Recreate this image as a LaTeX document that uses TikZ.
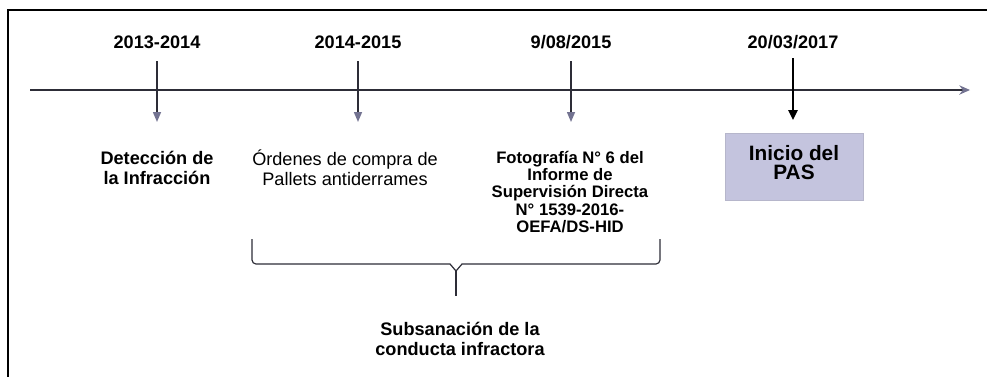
\documentclass[tikz,border=0pt]{standalone}
\usepackage{fontspec}
\setmainfont{Liberation Sans}
\usepackage{xcolor}
\usetikzlibrary{arrows.meta,positioning}
\definecolor{lineGray}{RGB}{45,45,55}
\definecolor{tipBlue}{RGB}{115,115,145}
\definecolor{boxBlue}{RGB}{196,196,222}

\begin{document}
\begin{tikzpicture}[
	x=0.75pt, y=-0.75pt,
	datelabel/.style={
		font=\fontsize{13.6}{15}\selectfont\bfseries,
		inner sep=0pt},
	eventlabel/.style={
		align=center,
		inner sep=0pt,
		font=\fontsize{13.6}{15}\selectfont\bfseries},
	myarrow/.style={draw=lineGray, line width=1.1pt,
		-{Triangle[length=7.5pt,width=6pt,fill=tipBlue,color=tipBlue]}},
	mainarrow/.style={draw=black, line width=1.4pt,
		-{Triangle[length=7.5pt,width=7pt,fill=black]}},
	pasbox/.style={
		fill=boxBlue,
		draw=boxBlue!80!gray,
		minimum width=103.5pt,
		minimum height=50pt,
		align=center,
		font=\fontsize{15.6}{14.3}\selectfont\bfseries}
	]
	\useasboundingbox (0,0) rectangle (987,376);
	
	% frame
	\draw[line width=2.2pt] (8,380) -- (8,10) -- (995,10);
	
	% timeline
	\coordinate (tlA) at (30,90);
	\coordinate (tlB) at (970,90);
	\draw[lineGray, line width=1.1pt,
		-{Stealth[length=8pt,width=7pt,fill=tipBlue,color=tipBlue]}] (tlA) -- (tlB);
	
	\foreach \x/\name/\txt in {% x/name/date
		157/a/2013-2014,
		358/b/2014-2015,
		571/c/{9/08/2015}}
	{
		\node[datelabel] (date\name) at (\x,42) {\txt};
		\coordinate (top\name) at (\x,61);
		\coordinate (bot\name) at (\x,122);
		\draw[myarrow] (top\name) -- (bot\name);
	}
	\node[datelabel] (dated) at (793,42) {20/03/2017};
	\coordinate (topd) at (793,58);
	\coordinate (botd) at (793,120);
	\draw[mainarrow] (topd) -- (botd);
	
	% events
	\node[eventlabel] (evA) at (157,168) {Detección de\\la Infracción};
	\node[eventlabel, font=\fontsize{13.6}{15}\selectfont] (evB) at (345,168)
		{Órdenes de compra de\\Pallets antiderrames};
	\node[eventlabel, font=\fontsize{12.5}{13.1}\selectfont\bfseries] (evC) at (570,192)
		{Fotografía N° 6 del\\Informe de\\Supervisión Directa\\N° 1539-2016-\\OEFA/DS-HID};
	\node[pasbox] (evD) at (794,166.5) {Inicio del\\PAS\\[-8.5pt]};
	
	% brace
	\coordinate (brL) at (252,239);
	\coordinate (brR) at (660,239);
	\coordinate (brM) at (456,296);
	\draw[lineGray, line width=0.9pt] (brL) -- (252,260) to[out=-85,in=180] (256,264)
		-- (450,264) -- (456,271) -- (462,264) -- (656,264)
		to[out=0,in=-95] (660,260) -- (brR);
	\draw[lineGray, line width=0.9pt] (456,271) -- (brM);
	\node[eventlabel] (sub) at (460,339) {Subsanación de la\\conducta infractora};
	
\end{tikzpicture}
\end{document}
